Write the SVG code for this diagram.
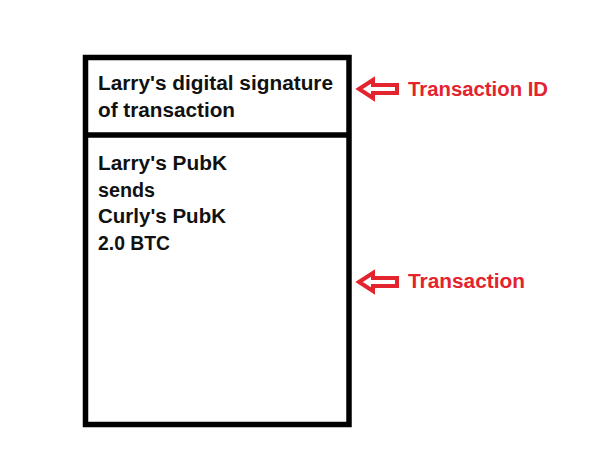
<svg xmlns="http://www.w3.org/2000/svg" width="609" height="470" viewBox="0 0 609 470">
<defs>
<style>
.box{fill:#fff;stroke:#000;stroke-width:5.5}
.t{font-family:"Liberation Sans",Arial,sans-serif;font-weight:bold;font-size:19.5px;fill:#111}
.lbl{font-family:"Liberation Sans",Arial,sans-serif;font-weight:bold;font-size:20px;fill:#e3232d}
.arr{fill:#fff;stroke:#e3232d;stroke-width:4;stroke-linejoin:miter}
</style>
<polygon id="arrow" class="arr" points="0,0 14,-9 14,-4 38,-4 38,4 14,4 14,9"/>
</defs>
<rect width="609" height="470" fill="#fff"/>
<g id="tx-box">
<rect class="box" x="85.5" y="57.5" width="263.5" height="367"/>
<line x1="85.5" y1="135" x2="349" y2="135" stroke="#000" stroke-width="5.5"/>
</g>
<g id="signature">
<text class="t" x="98" y="90" textLength="235" lengthAdjust="spacingAndGlyphs">Larry's digital signature</text>
<text class="t" x="98" y="117" textLength="137" lengthAdjust="spacingAndGlyphs">of transaction</text>
</g>
<g id="body">
<text class="t" x="98" y="170" textLength="129" lengthAdjust="spacingAndGlyphs">Larry's PubK</text>
<text class="t" x="98" y="197" textLength="57" lengthAdjust="spacingAndGlyphs">sends</text>
<text class="t" x="98" y="223" textLength="128" lengthAdjust="spacingAndGlyphs">Curly's PubK</text>
<text class="t" x="98" y="250" textLength="72" lengthAdjust="spacingAndGlyphs">2.0 BTC</text>
</g>
<g id="connectors">
<use href="#arrow" x="359" y="89"/>
<use href="#arrow" x="359" y="282"/>
</g>
<g id="label-txid">
<text class="lbl" x="408" y="96" textLength="140" lengthAdjust="spacingAndGlyphs">Transaction ID</text>
</g>
<g id="label-tx">
<text class="lbl" x="408" y="288" textLength="117" lengthAdjust="spacingAndGlyphs">Transaction</text>
</g>
</svg>
